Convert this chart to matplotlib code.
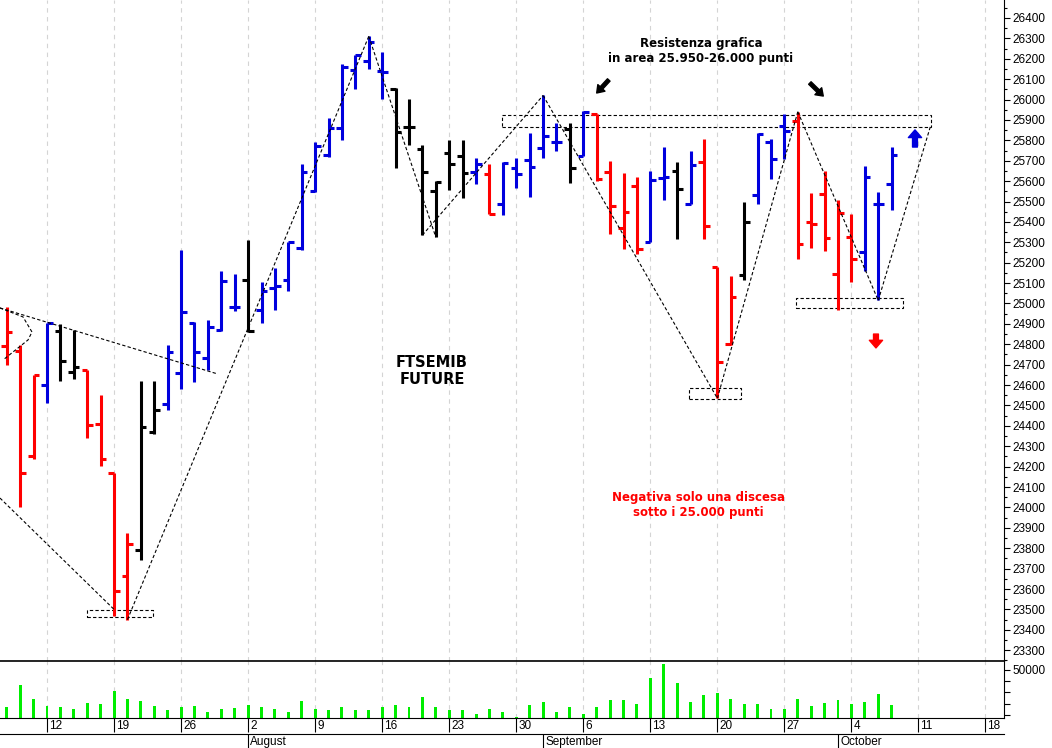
import numpy as np
import matplotlib.pyplot as plt
from matplotlib.patches import Rectangle
from matplotlib.ticker import MultipleLocator
from matplotlib.transforms import blended_transform_factory

# FTSEMIB future, daily bars 7 Jul - 7 Oct 2021
opens = [24790, 24765, 24250, 24600, 24865, 24665, 24675, 24410, 24170, 23665,
         23790, 24370, 24505, 24660, 24905, 24735, 24870, 24985, 25115, 24970,
         25075, 25115, 25270, 25550, 25730, 25860, 26145, 26190, 26140, 26050,
         25865, 25755, 25550, 25740, 25725, 25645, 25635, 25490, 25665, 25705,
         25760, 25790, 25855, 25725, 25930, 25645, 25370, 25575, 25300, 25615,
         25650, 25490, 25695, 25180, 24800, 25140, 25530, 25790, 25870, 25895,
         25400, 25535, 25145, 25325, 25250, 25490, 25585]
highs = [24985, 24795, 24650, 24905, 24900, 24870, 24675, 24550, 24170, 23875,
         24620, 24620, 24795, 25260, 24910, 24920, 25160, 25145, 25310, 25105,
         25175, 25300, 25685, 25790, 25910, 26175, 26220, 26310, 26235, 26055,
         26005, 25775, 25600, 25800, 25800, 25715, 25685, 25695, 25715, 25835,
         26020, 25885, 25885, 25945, 25930, 25700, 25640, 25620, 25650, 25765,
         25695, 25750, 25805, 25180, 25135, 25500, 25835, 25805, 25930, 25940,
         25540, 25650, 25505, 25440, 25675, 25545, 25765]
lows = [24700, 24000, 24235, 24510, 24620, 24630, 24340, 24205, 23470, 23450,
        23740, 24360, 24480, 24580, 24615, 24675, 24865, 24965, 24860, 24905,
        24970, 25060, 25260, 25545, 25720, 25800, 26050, 26150, 26005, 25665,
        25775, 25335, 25325, 25555, 25515, 25585, 25440, 25435, 25565, 25520,
        25715, 25750, 25590, 25725, 25600, 25340, 25265, 25245, 25300, 25505,
        25315, 25490, 25315, 24535, 24795, 25115, 25490, 25610, 25710, 25220,
        25270, 25255, 24970, 25105, 25160, 25015, 25460]
closes = [24860, 24170, 24650, 24905, 24720, 24690, 24405, 24235, 23590, 23820,
          24395, 24480, 24760, 24960, 24760, 24885, 25110, 24985, 24865, 25060,
          25085, 25300, 25645, 25770, 25860, 26160, 26220, 26280, 26135, 25840,
          25865, 25645, 25595, 25685, 25640, 25685, 25440, 25690, 25635, 25670,
          25820, 25790, 25665, 25940, 25610, 25480, 25450, 25265, 25605, 25620,
          25560, 25680, 25380, 24715, 25030, 25400, 25830, 25710, 25845, 25290,
          25390, 25320, 25445, 25220, 25620, 25490, 25730]
# r = red, b = blue, k = black bar
colori = list('rrrbkkrrrrkkbbbbbbkbbbbbbbbbbkkkkkkbrbbbbbkbrrrrbbkbrrrkbbbrrrrrbbb')
volumi = [17400, 36700, 24500, 18300, 16800, 15100, 20900, 20000, 31300, 24500,
          22700, 17700, 14400, 16800, 17700, 12900, 15300, 16000, 18600, 16800,
          15300, 12900, 22400, 15100, 14400, 16800, 14400, 14200, 17100, 18600,
          17100, 26000, 17100, 14200, 14400, 10600, 15300, 12900, 8500, 19200,
          21600, 12900, 16800, 11200, 16800, 23600, 23300, 20000, 42600, 55300,
          38200, 21600, 27800, 29600, 24500, 20000, 20000, 15100, 15100, 24500,
          17700, 20700, 23600, 20000, 21600, 28700, 18600]

giorni = ['12', '19', '26', '2', '9', '16', '23', '30', '6', '13', '20', '27', '4', '11', '18']
lunedi = [3, 8, 13, 18, 23, 28, 33, 38, 43, 48, 53, 58, 63, 68, 73]
mesi = ['August', 'September', 'October']
inizio_mese = [18, 40, 62]

# drawn annotations (data coords)
linea_sx_alta = ([-0.51, 15.75], [24978, 24654])
curva_sx = ([-0.51, 1.21, 1.88, 1.58, -0.28], [24978, 24934, 24860, 24821, 24723])
linea_sx_bassa = ([-0.51, 8], [24046, 23500])
scatole = [(5.99, 10.9, 23462, 23497), (50.9, 54.8, 24532, 24586),
           (58.9, 66.85, 24978, 25027), (36.9, 68.9, 25865, 25924)]

x = np.arange(len(opens))
cmap = {'r': '#ff0000', 'b': '#0000dd', 'k': '#000000'}
col = [cmap[c] for c in colori]

fig = plt.figure(figsize=(10.52, 7.48), dpi=100)
W = 1004 / 1052
ax = fig.add_axes([0, 87 / 748, W, 661 / 748])
axv = fig.add_axes([0, 30 / 748, W, 57 / 748], sharex=ax)
axm = fig.add_axes([0, 0, W, 14 / 748], sharex=ax)

# OHLC bars
ax.vlines(x, lows, highs, colors=col, lw=2.2)
ax.hlines(opens, x - 0.42, x, colors=col, lw=2.2)
ax.hlines(closes, x, x + 0.42, colors=col, lw=2.2)

tr = dict(color='black', lw=0.8, ls=(0, (3, 2)))
ax.plot([9, 27], [lows[9], highs[27]], **tr)
ax.plot([27, 32], [highs[27], lows[32]], **tr)
ax.plot([31, 40], [lows[31], highs[40]], **tr)
ax.plot([40, 53], [highs[40], lows[53]], **tr)
ax.plot([53, 59], [lows[53], highs[59]], **tr)
ax.plot([59, 65], [highs[59], lows[65]], **tr)
ax.plot([65, 68.9], [lows[65], 25870], **tr)
ax.plot(*linea_sx_alta, **tr)
ax.plot(*curva_sx, **tr)
ax.plot(*linea_sx_bassa, **tr)
for x0, x1, y0, y1 in scatole:
    ax.add_patch(Rectangle((x0, y0), x1 - x0, y1 - y0, fill=False, ec='black', lw=0.8, ls=(0, (3, 2))))

ax.text(51.78, 26238, 'Resistenza grafica\nin area 25.950-26.000 punti', ha='center', va='center',
        fontsize=8.5, fontweight='bold', linespacing=1.15)
ax.text(31.71, 24669, 'FTSEMIB\nFUTURE', ha='center', va='center', fontsize=10.5,
        fontweight='bold', linespacing=1.1)
ax.text(51.6, 24012, 'Negativa solo una discesa\nsotto i 25.000 punti', ha='center', va='center',
        fontsize=8.5, fontweight='bold', color='#ff0000', linespacing=1.2)

freccia = dict(width=2.5, headwidth=7, headlength=5, shrink=0)
ax.annotate('', xy=(44.0, 26032), xytext=(44.9, 26096), arrowprops=dict(color='black', **freccia))
ax.annotate('', xy=(60.9, 26017), xytext=(59.9, 26081), arrowprops=dict(color='black', **freccia))
ax.annotate('', xy=(67.74, 25851), xytext=(67.74, 25767),
            arrowprops=dict(color='#0000dd', width=3.5, headwidth=9.5, headlength=5.5, shrink=0))
ax.annotate('', xy=(64.83, 24782), xytext=(64.83, 24850),
            arrowprops=dict(color='#ff0000', width=3.5, headwidth=9.5, headlength=5.5, shrink=0))

ax.set_xlim(-0.507, 74.38)
ax.set_ylim(23247, 26488)
ax.yaxis.tick_right()
ax.set_yticks(np.arange(23300, 26401, 100))
ax.yaxis.set_minor_locator(MultipleLocator(50))
ax.tick_params(axis='y', which='major', length=4, width=0.8, labelsize=8.5, pad=2)
ax.tick_params(axis='y', which='minor', length=2, width=0.8)
ax.set_xticks(lunedi)
ax.tick_params(axis='x', which='both', bottom=False, labelbottom=False)
ax.grid(axis='x', color='#d4d4d4', lw=0.8, ls=(0, (4, 4)))
for s in ['left', 'top']:
    ax.spines[s].set_visible(False)
for lab in ax.get_yticklabels():
    lab.set_family(['Liberation Sans', 'DejaVu Sans'])

# volume
axv.set_axisbelow(True)
axv.bar(x, volumi, width=0.22, color='#00ee00')
axv.set_ylim(7328, 58000)
axv.yaxis.tick_right()
axv.set_yticks([10000, 20000, 30000, 40000, 50000])
axv.set_yticklabels(['', '', '', '', '50000'], family=['Liberation Sans', 'DejaVu Sans'])
axv.tick_params(axis='y', length=4, width=0.8, labelsize=8.5, pad=2)
axv.tick_params(axis='x', direction='out', length=10, width=0.8, labelbottom=False)
axv.grid(axis='x', color='#d4d4d4', lw=0.8, ls=(0, (4, 4)))
axv.spines['left'].set_visible(False)
axv.spines['top'].set_linewidth(1.2)
bt = blended_transform_factory(axv.transData, axv.transAxes)
for i, g in zip(lunedi, giorni):
    axv.text(i + 0.15, -0.03, g, transform=bt, ha='left', va='top', fontsize=8.5,
             family=['Liberation Sans Narrow', 'Liberation Sans', 'DejaVu Sans'])

# month strip
axm.set_ylim(0, 1)
axm.vlines(inizio_mese, 0, 1, color='black', lw=0.8)
for i, m in zip(inizio_mese, mesi):
    axm.text(i + 0.15, 0.4, m, ha='left', va='center', fontsize=8.5,
             family=['Liberation Sans Narrow', 'Liberation Sans', 'DejaVu Sans'])
axm.tick_params(bottom=False, labelbottom=False, left=False, labelleft=False)
for s in ['left', 'bottom', 'right']:
    axm.spines[s].set_visible(False)
axm.spines['top'].set_linewidth(0.8)
axm.patch.set_alpha(0)

fig.savefig('out.png', dpi=100)
